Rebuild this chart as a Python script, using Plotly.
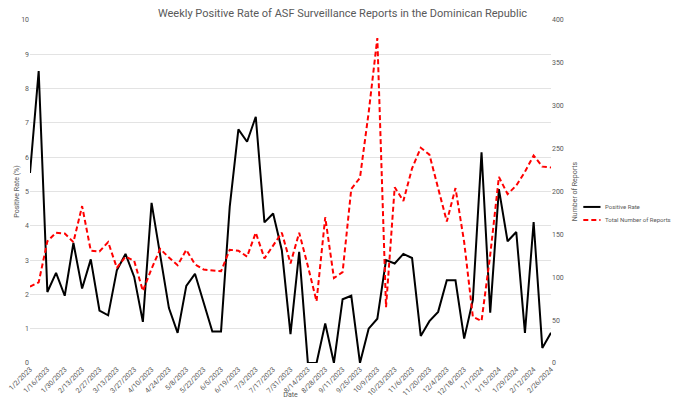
import pandas as pd
import plotly.graph_objects as go

# weekly dates, 1/2/2023 .. 2/26/2024
dates = pd.date_range("2023-01-02", "2024-02-26", freq="7D")
date_labels = [f"{d.month}/{d.day}/{d.year}" for d in dates]

positive_rate = [
    5.54, 8.51, 2.07, 2.63, 1.96, 3.50, 2.17, 3.02, 1.53, 1.39,
    2.70, 3.18, 2.51, 1.20, 4.67, 3.15, 1.60, 0.88, 2.25, 2.60,
    1.76, 0.92, 0.92, 4.55, 6.81, 6.45, 7.18, 4.10, 4.36, 3.29,
    0.84, 3.24, 0.00, 0.00, 1.15, 0.00, 1.86, 1.96, 0.00, 1.00,
    1.29, 3.00, 2.90, 3.18, 3.06, 0.79, 1.22, 1.49, 2.41, 2.41,
    0.71, 1.83, 6.14, 1.47, 5.07, 3.55, 3.82, 0.88, 4.11, 0.44,
    0.88,
]

total_reports = [
    89, 94, 142, 152, 151, 141, 183, 131, 130, 141,
    111, 124, 119, 84, 110, 133, 123, 114, 132, 115,
    109, 108, 107, 132, 131, 124, 152, 122, 137, 152,
    116, 152, 113, 72, 170, 99, 106, 203, 216, 292,
    379, 65, 205, 189, 227, 251, 243, 203, 165, 204,
    141, 54, 49, 126, 217, 197, 207, 223, 242, 229,
    228,
]

tick_labels = date_labels[::2]

grey = "#595959"
rate_line = dict(color="black", width=2)
reports_line = dict(color="#ff0000", width=2, dash="5px,3px")

fig = go.Figure()

fig.add_trace(go.Scatter(
    x=date_labels, y=positive_rate, name="Positive Rate",
    mode="lines", line=rate_line, showlegend=False
))

fig.add_trace(go.Scatter(
    x=date_labels, y=total_reports, name="Total Number of Reports",
    mode="lines", yaxis="y2", line=reports_line, showlegend=False
))

# legend drawn by hand (plotly's legend swatch is too long for the space)
legend_items = [("Positive Rate", rate_line, 0.455), ("Total Number of Reports", reports_line, 0.417)]
for name, ln, ypos in legend_items:
    fig.add_shape(type="line", xref="paper", yref="paper",
                  x0=1.062, x1=1.095, y0=ypos, y1=ypos, line=ln)
    fig.add_annotation(text=name, xref="paper", yref="paper", x=1.099, y=ypos,
                       xanchor="left", yanchor="middle", showarrow=False,
                       font=dict(size=6, color=grey))

# the page body adds 8px around the plot, so the figure is made 16px smaller
fig.update_layout(
    width=669, height=391,
    margin=dict(l=22, r=126, t=12, b=36, autoexpand=False),
    paper_bgcolor="white", plot_bgcolor="white",
    font=dict(family="Roboto", size=7, color=grey),
    title=dict(
        text="Weekly Positive Rate of ASF Surveillance Reports in the Dominican Republic",
        x=0.5, xanchor="center", y=0.996, yanchor="top", pad=dict(t=0, b=0),
        font=dict(size=11, color=grey)
    ),
    showlegend=False,
    xaxis=dict(
        type="category", range=[0, len(date_labels) - 1],
        tickmode="array", tickvals=tick_labels, ticktext=tick_labels,
        tickangle=-45, showgrid=False, zeroline=False,
        showline=False, ticks="", automargin=False,
        title=dict(text="Date", font=dict(size=7, color=grey), standoff=0)
    ),
    yaxis=dict(
        range=[0, 10], dtick=1, showgrid=True, gridcolor="#e3e3e3",
        gridwidth=1, zeroline=False, showline=False, ticks="", automargin=False,
        title=dict(text="Positive Rate (%)", font=dict(size=7, color=grey), standoff=0)
    ),
    yaxis2=dict(
        range=[0, 400], dtick=50, overlaying="y", side="right",
        showgrid=False, zeroline=False, showline=False, ticks="", automargin=False,
        title=dict(text="Number of Reports", font=dict(size=7, color=grey), standoff=9)
    ),
)

fig.write_html("out.html")
